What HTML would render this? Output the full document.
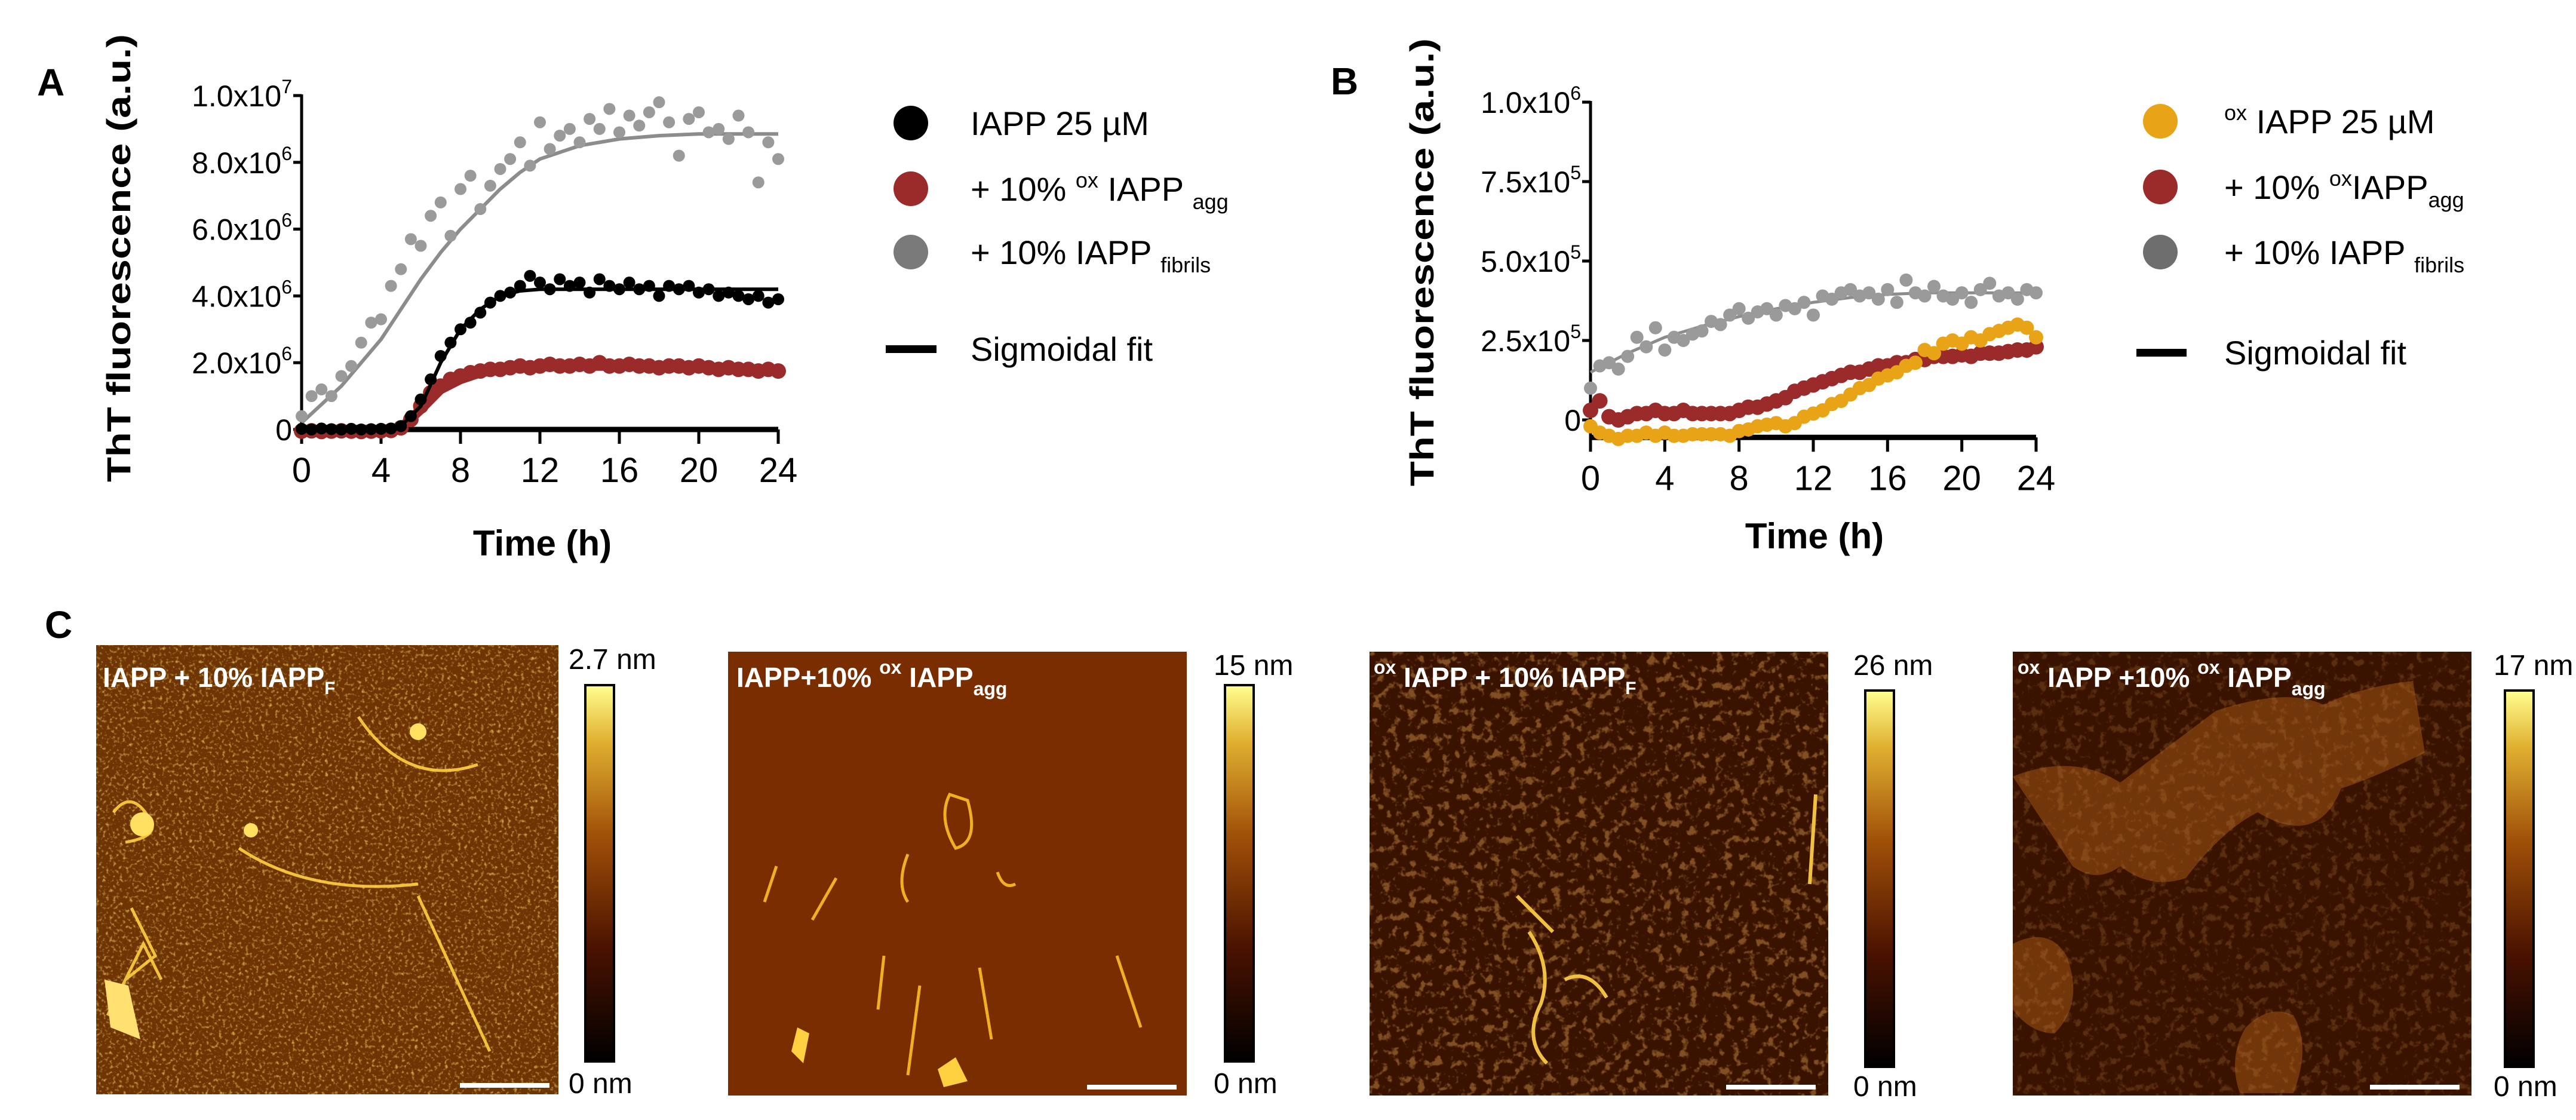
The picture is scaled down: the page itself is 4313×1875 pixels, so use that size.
<!DOCTYPE html>
<html><head><meta charset="utf-8"><title>ThT fluorescence and AFM</title>
<style>
html,body{margin:0;padding:0;background:#fff;}
svg{display:block;font-family:"Liberation Sans",Arial,sans-serif;}
</style></head>
<body>
<svg id="fig" width="4313" height="1875" viewBox="0 0 4313 1875" xmlns="http://www.w3.org/2000/svg">
<defs>
  <linearGradient id="cbar" x1="0" y1="1" x2="0" y2="0">
    <stop offset="0" stop-color="#000"/>
    <stop offset="0.3" stop-color="#4a1200"/>
    <stop offset="0.6" stop-color="#a05008"/>
    <stop offset="0.85" stop-color="#e0b030"/>
    <stop offset="1" stop-color="#ffff90"/>
  </linearGradient>
  <filter id="speck" x="0" y="0" width="1" height="1">
    <feTurbulence type="fractalNoise" baseFrequency="0.18" numOctaves="2" seed="3"/>
    <feColorMatrix type="matrix" values="0 0 0 0 1  0 0 0 0 0.72  0 0 0 0 0.15  0 0 0 3.2 -1.7"/>
  </filter>
  <filter id="net" x="0" y="0" width="1" height="1">
    <feTurbulence type="fractalNoise" baseFrequency="0.07" numOctaves="3" seed="7"/>
    <feColorMatrix type="matrix" values="0 0 0 0 0.5  0 0 0 0 0.22  0 0 0 0 0.05  0 0 0 6 -3.3"/>
  </filter>
</defs>

<!-- Panel letters -->
<text x="62" y="160" font-size="64" font-weight="bold">A</text>
<text x="2228" y="158" font-size="64" font-weight="bold">B</text>
<text x="75" y="1068" font-size="64" font-weight="bold">C</text>

<g id="chartA"></g>
<g id="chartB"></g>

<!-- Legend A -->
<g font-size="56">
  <g><circle cx="1525" cy="206" r="29" fill="#000"/><text x="1625" y="226">IAPP 25 µM</text></g>
  <g><circle cx="1525" cy="316" r="29" fill="#9b2a2a"/><text x="1625" y="336">+ 10% <tspan font-size="36" dy="-22">ox</tspan><tspan dy="22"> IAPP </tspan><tspan font-size="36" dy="14">agg</tspan></text></g>
  <g><circle cx="1525" cy="422" r="29" fill="#7a7a7a"/><text x="1625" y="442">+ 10% IAPP <tspan font-size="36" dy="14">fibrils</tspan></text></g>
  <g><rect x="1483" y="578" width="85" height="13" fill="#000"/><text x="1625" y="604">Sigmoidal fit</text></g>
</g>
<!-- Legend B -->
<g font-size="56">
  <g><circle cx="3617" cy="203" r="29" fill="#e8a317"/><text x="3724" y="223"><tspan font-size="36" dy="-22">ox</tspan><tspan dy="22"> IAPP 25 µM</tspan></text></g>
  <g><circle cx="3617" cy="313" r="29" fill="#9b2a2a"/><text x="3724" y="333">+ 10% <tspan font-size="36" dy="-22">ox</tspan><tspan dy="22">IAPP</tspan><tspan font-size="36" dy="14">agg</tspan></text></g>
  <g><circle cx="3617" cy="422" r="29" fill="#6e6e6e"/><text x="3724" y="442">+ 10% IAPP <tspan font-size="36" dy="14">fibrils</tspan></text></g>
  <g><rect x="3577" y="584" width="84" height="13" fill="#000"/><text x="3724" y="610">Sigmoidal fit</text></g>
</g>

<!-- Panel C AFM images -->
<g>
  <rect x="161" y="1080" width="774" height="752" fill="#6e3404"/>
  <rect x="161" y="1080" width="774" height="752" filter="url(#speck)" opacity="0.65"/>
  <g stroke="#ffd040" stroke-width="5" fill="none" opacity="0.9">
    <path d="M190 1360 q30 -40 60 10 q20 30 -40 40"/><path d="M180 1700 l60 -120 l30 60"/><path d="M220 1520 l40 80 l-50 40"/>
    <path d="M600 1200 q80 120 200 80"/><path d="M400 1420 q120 80 300 60"/><path d="M700 1500 l120 260"/>
  </g>
  <circle cx="238" cy="1380" r="20" fill="#ffe060"/><circle cx="700" cy="1225" r="14" fill="#ffe060"/><circle cx="420" cy="1390" r="12" fill="#ffe060"/>
  <path d="M175 1640 l40 10 l20 90 l-50 -20z" fill="#ffe070"/>
  <rect x="770" y="1813" width="150" height="8" fill="#fff"/>
  <text x="172" y="1150" fill="#fff" font-size="46" font-weight="bold">IAPP + 10% IAPP<tspan font-size="30" dy="12">F</tspan></text>
</g>
<g>
  <rect x="1219" y="1091" width="768" height="743" fill="#7a2e00"/>
  <g stroke="#f0b020" stroke-width="5" fill="none">
    <path d="M1590 1330 q-20 40 10 90 q40 -10 20 -80z"/><path d="M1520 1430 q-20 50 0 80"/><path d="M1300 1450 l-20 60"/><path d="M1400 1470 l-40 70"/>
    <path d="M1670 1460 q10 30 30 20"/><path d="M1480 1600 l-10 90"/><path d="M1540 1650 l-20 150"/><path d="M1640 1620 l20 120"/><path d="M1870 1600 l40 120"/>
  </g>
  <path d="M1335 1720 l20 10 l-10 50 l-20 -20z M1570 1790 l30 -20 l20 40 l-40 10z" fill="#ffd040"/>
  <rect x="1820" y="1816" width="150" height="8" fill="#fff"/>
  <text x="1233" y="1150" fill="#fff" font-size="46" font-weight="bold">IAPP+10% <tspan font-size="32" dy="-22">ox</tspan><tspan dy="22">   IAPP</tspan><tspan font-size="32" dy="14">agg</tspan></text>
</g>
<g>
  <rect x="2293" y="1091" width="768" height="743" fill="#3a1300"/>
  <rect x="2293" y="1091" width="768" height="743" filter="url(#net)" opacity="0.55"/>
  <g stroke="#f0c040" stroke-width="6" fill="none">
    <path d="M2560 1560 q40 60 20 120 q-30 60 10 100"/><path d="M2620 1640 q40 -20 70 30"/><path d="M3040 1330 l-10 150"/><path d="M2540 1500 l60 60"/>
  </g>
  <rect x="2890" y="1816" width="150" height="8" fill="#fff"/>
  <text x="2300" y="1150" fill="#fff" font-size="46" font-weight="bold"><tspan font-size="32" dy="-22">ox</tspan><tspan dy="22"> IAPP + 10% IAPP</tspan><tspan font-size="30" dy="12">F</tspan></text>
</g>
<g>
  <rect x="3370" y="1091" width="768" height="743" fill="#3a1300"/>
  <g fill="#8a4610" opacity="0.7">
    <path d="M3370 1300 q100 -40 180 10 q80 -60 160 -120 q120 -40 180 -10 q60 -30 150 -40 l20 120 q-80 40 -140 60 q-40 100 -140 40 q-60 30 -120 110 q-60 20 -110 -20 q-40 30 -80 0z"/>
    <path d="M3370 1580 q60 -30 90 20 q30 80 -20 130 q-40 0 -70 -40z"/>
    <path d="M3760 1720 q40 -40 80 -20 q30 50 0 130 l-90 0 q-20 -60 10 -110z"/>
  </g>
  <rect x="3370" y="1091" width="768" height="743" filter="url(#net)" opacity="0.25"/>
  <rect x="3968" y="1816" width="150" height="8" fill="#fff"/>
  <text x="3378" y="1150" fill="#fff" font-size="46" font-weight="bold"><tspan font-size="32" dy="-22">ox</tspan><tspan dy="22"> IAPP +10% </tspan><tspan font-size="32" dy="-22">ox</tspan><tspan dy="22">   IAPP</tspan><tspan font-size="32" dy="14">agg</tspan></text>
</g>

<!-- Colorbars -->
<g font-size="48">
  <rect x="980" y="1147" width="48" height="630" fill="url(#cbar)" stroke="#000" stroke-width="4"/>
  <text x="952" y="1120">2.7 nm</text><text x="952" y="1830">0 nm</text>
</g>
<g font-size="48">
  <rect x="2051" y="1147" width="48" height="630" fill="url(#cbar)" stroke="#000" stroke-width="4"/>
  <text x="2032" y="1130">15 nm</text><text x="2032" y="1830">0 nm</text>
</g>
<g font-size="48">
  <rect x="3123" y="1156" width="48" height="630" fill="url(#cbar)" stroke="#000" stroke-width="4"/>
  <text x="3103" y="1130">26 nm</text><text x="3103" y="1835">0 nm</text>
</g>
<g font-size="48">
  <rect x="4194" y="1156" width="48" height="630" fill="url(#cbar)" stroke="#000" stroke-width="4"/>
  <text x="4175" y="1130">17 nm</text><text x="4175" y="1835">0 nm</text>
</g>
</svg>

<script>
// ---------- Panel A data (values in units of 1e6) ----------
const timeA = [0,0.5,1,1.5,2,2.5,3,3.5,4,4.5,5,5.5,6,6.5,7,7.5,8,8.5,9,9.5,10,10.5,11,11.5,12,12.5,13,13.5,14,14.5,15,15.5,16,16.5,17,17.5,18,18.5,19,19.5,20,20.5,21,21.5,22,22.5,23,23.5,24];
const grayA = [0.4,1.0,1.2,1.0,1.6,1.9,2.6,3.2,3.3,4.3,4.8,5.7,5.5,6.4,6.8,5.8,7.2,7.6,6.6,7.3,7.8,8.1,8.6,7.9,9.2,8.4,8.8,9.0,8.6,9.3,9.0,9.6,8.9,9.4,9.1,9.5,9.8,9.2,8.2,9.3,9.5,8.9,9.0,8.7,9.4,8.9,7.4,8.6,8.1];
const blackA = [0.02,0.0,0.03,0.01,0.0,0.02,0.0,0.01,0.02,0.03,0.1,0.4,0.9,1.5,2.2,2.6,3.0,3.2,3.5,3.8,4.0,4.1,4.3,4.6,4.4,4.2,4.5,4.3,4.4,4.1,4.5,4.3,4.2,4.4,4.2,4.3,4.0,4.3,4.2,4.3,4.1,4.2,4.0,4.1,4.0,3.9,4.0,3.8,3.9];
const redA = [-0.05,-0.04,-0.06,-0.05,-0.04,-0.05,-0.06,-0.05,-0.04,-0.03,0.05,0.3,0.7,1.1,1.3,1.5,1.6,1.7,1.75,1.8,1.8,1.85,1.9,1.85,1.9,1.95,1.9,1.9,1.95,1.9,2.0,1.9,1.9,1.95,1.9,1.9,1.85,1.9,1.9,1.85,1.9,1.85,1.8,1.85,1.8,1.8,1.75,1.8,1.75];
const fitTime = [0,2,4,5,6,7,8,9,10,11,12,14,16,18,20,22,24];
const fitGrayA = [0.2,1.3,2.7,3.6,4.5,5.3,6.0,6.6,7.2,7.7,8.1,8.5,8.7,8.8,8.85,8.85,8.85];
const fitBlackA = [0,0,0,0.1,0.7,2.0,3.0,3.6,4.0,4.15,4.2,4.2,4.2,4.2,4.2,4.2,4.2];
const fitRedA = [0,0,0,0.05,0.6,1.2,1.5,1.7,1.8,1.85,1.88,1.9,1.9,1.88,1.85,1.82,1.8];
const ticksXA = [0,4,8,12,16,20,24];
const ticksYA = [0,2,4,6,8,10];
const tickLabelsYA = [["0",""],["2.0x10","6"],["4.0x10","6"],["6.0x10","6"],["8.0x10","6"],["1.0x10","7"]];

// ---------- Panel B data (values in units of 1e5) ----------
const timeB = timeA;
const grayB = [1.0,1.7,1.8,1.6,2.0,2.6,2.3,2.9,2.2,2.6,2.5,2.7,2.8,3.1,3.0,3.3,3.5,3.2,3.4,3.5,3.3,3.6,3.5,3.7,3.3,3.9,3.8,4.0,4.1,3.9,4.0,3.8,4.1,3.7,4.4,4.0,3.9,4.2,3.9,3.8,4.0,3.7,4.1,4.3,3.9,4.0,3.8,4.1,4.0];
const redB = [0.3,0.6,0.1,0.0,0.1,0.2,0.2,0.3,0.2,0.2,0.3,0.2,0.2,0.2,0.2,0.2,0.3,0.4,0.4,0.5,0.6,0.7,0.9,1.0,1.1,1.2,1.3,1.4,1.5,1.5,1.6,1.7,1.7,1.8,1.8,1.9,1.9,2.0,2.0,2.0,2.05,2.0,2.1,2.1,2.1,2.15,2.2,2.2,2.3];
const yellowB = [-0.2,-0.4,-0.5,-0.6,-0.5,-0.5,-0.4,-0.5,-0.4,-0.5,-0.5,-0.45,-0.45,-0.45,-0.45,-0.5,-0.35,-0.3,-0.2,-0.15,-0.1,-0.2,-0.1,0.1,0.2,0.3,0.5,0.6,0.8,1.0,1.1,1.3,1.4,1.5,1.7,1.8,2.2,2.1,2.4,2.5,2.4,2.6,2.5,2.7,2.8,2.9,3.0,2.9,2.6];
const fitTimeB = [0,2,4,6,8,10,12,14,16,18,20,22,24];
const fitGrayB = [1.5,2.1,2.6,2.95,3.25,3.5,3.7,3.85,3.95,4.0,4.0,4.0,4.0];
const ticksXB = [0,4,8,12,16,20,24];
const ticksYB = [0,2.5,5,7.5,10];
const tickLabelsYB = [["0",""],["2.5x10","5"],["5.0x10","5"],["7.5x10","5"],["1.0x10","6"]];

const NS = "http://www.w3.org/2000/svg";
function mk(tag, attrs, parent){
  const e = document.createElementNS(NS, tag);
  for (const k in attrs) e.setAttribute(k, attrs[k]);
  parent.appendChild(e);
  return e;
}

function drawChart(g, cfg){
  const xs = t => cfg.x0 + (t - 0) / 24 * (cfg.x1 - cfg.x0);
  const ys = v => cfg.yZero - (v / cfg.yTopVal) * (cfg.yZero - cfg.yTop);
  const yBottom = ys(cfg.yMin);
  const yax = mk('line', {x1: cfg.x0, y1: ys(cfg.yTopVal)-2, x2: cfg.x0, y2: yBottom + 22, stroke:'#000','stroke-width':5}, g);
  
  
  const xax = mk('line', {x1: cfg.x0, y1: yBottom, x2: cfg.x1, y2: yBottom, stroke:'#000','stroke-width':9}, g);
  
  
  cfg.ticksX.forEach(t => {
    const tk = mk('line', {x1: xs(t), y1: yBottom, x2: xs(t), y2: yBottom + 24, stroke:'#000','stroke-width':5}, g);
    
    
    const lb = mk('text', {x: xs(t), y: yBottom + 88, 'font-size': 58, 'text-anchor':'middle'}, g);
    lb.textContent = String(t);
    
    
  });
  cfg.ticksY.forEach((v, i) => {
    const y = ys(v);
    const tk = mk('line', {x1: cfg.x0 - 14, y1: y, x2: cfg.x0, y2: y, stroke:'#000','stroke-width':5}, g);
    
    
    const lb = mk('text', {x: cfg.x0 - 16, y: y + 18, 'font-size': 50, 'text-anchor':'end'}, g);
    
    
    const lab = cfg.tickLabels[i];
    const t1 = document.createElementNS(NS, 'tspan'); t1.textContent = lab[0]; lb.appendChild(t1);
    if (lab[1]) { const t2 = document.createElementNS(NS, 'tspan'); t2.setAttribute('font-size', 32); t2.setAttribute('dy', -22); t2.textContent = lab[1]; lb.appendChild(t2); }
  });
  const yt = mk('text', {x: 0, y: 0, 'font-size': 56, 'font-weight':'bold', 'text-anchor':'middle', transform:`translate(${cfg.yLabelX},${cfg.yLabelY}) rotate(-90)`, textLength: cfg.yLabelLen, lengthAdjust:'spacingAndGlyphs'}, g);
  yt.textContent = 'ThT fluorescence (a.u.)';
  
  
  const xt = mk('text', {x: cfg.xLabelX, y: cfg.xLabelY, 'font-size': 60, 'font-weight':'bold', 'text-anchor':'middle'}, g);
  xt.textContent = 'Time (h)';
  
  
  cfg.series.forEach(s => {
    const sg = mk('g', {}, g);
    
    
    if (s.fitX) {
      const pts = s.fitX.map((t, i) => xs(t) + ',' + ys(s.fitY[i])).join(' ');
      const pl = mk('polyline', {points: pts, fill:'none', stroke: s.fitColor, 'stroke-width': s.fitWidth, 'stroke-linejoin':'round'}, sg);
      
      
    }
    s.x.forEach((t, i) => {
      const c = mk('circle', {cx: xs(t), cy: ys(s.y[i]), r: s.r, fill: s.color}, sg);
      
      
    });
  });
}

drawChart(document.getElementById('chartA'), {
  x0: 505, x1: 1303, yZero: 719, yTop: 160, yTopVal: 10, yMin: 0,
  ticksX: ticksXA, ticksY: ticksYA, tickLabels: tickLabelsYA,
  yLabelX: 218, yLabelY: 432, yLabelLen: 750, xLabelX: 908, xLabelY: 930,
  series: [
    {name:'series-red', x: timeA, y: redA, color:'#9b2a2a', r: 13, fitX: fitTime, fitY: fitRedA, fitColor:'#9b2a2a', fitWidth: 16},
    {name:'series-gray', x: timeA, y: grayA, color:'#9a9a9a', r: 10, fitX: fitTime, fitY: fitGrayA, fitColor:'#8c8c8c', fitWidth: 6},
    {name:'series-black', x: timeA, y: blackA, color:'#000', r: 10, fitX: fitTime, fitY: fitBlackA, fitColor:'#000', fitWidth: 6}
  ]
});

drawChart(document.getElementById('chartB'), {
  x0: 2663, x1: 3409, yZero: 703, yTop: 171, yTopVal: 10, yMin: -0.55,
  ticksX: ticksXB, ticksY: ticksYB, tickLabels: tickLabelsYB,
  yLabelX: 2400, yLabelY: 439, yLabelLen: 750, xLabelX: 3038, xLabelY: 918,
  series: [
    {name:'series-gray-b', x: timeB, y: grayB, color:'#9a9a9a', r: 11, fitX: fitTimeB, fitY: fitGrayB, fitColor:'#8c8c8c', fitWidth: 5},
    {name:'series-red-b', x: timeB, y: redB, color:'#9b2a2a', r: 13},
    {name:'series-yellow-b', x: timeB, y: yellowB, color:'#e8a317', r: 12}
  ]
});
</script>
</body></html>
